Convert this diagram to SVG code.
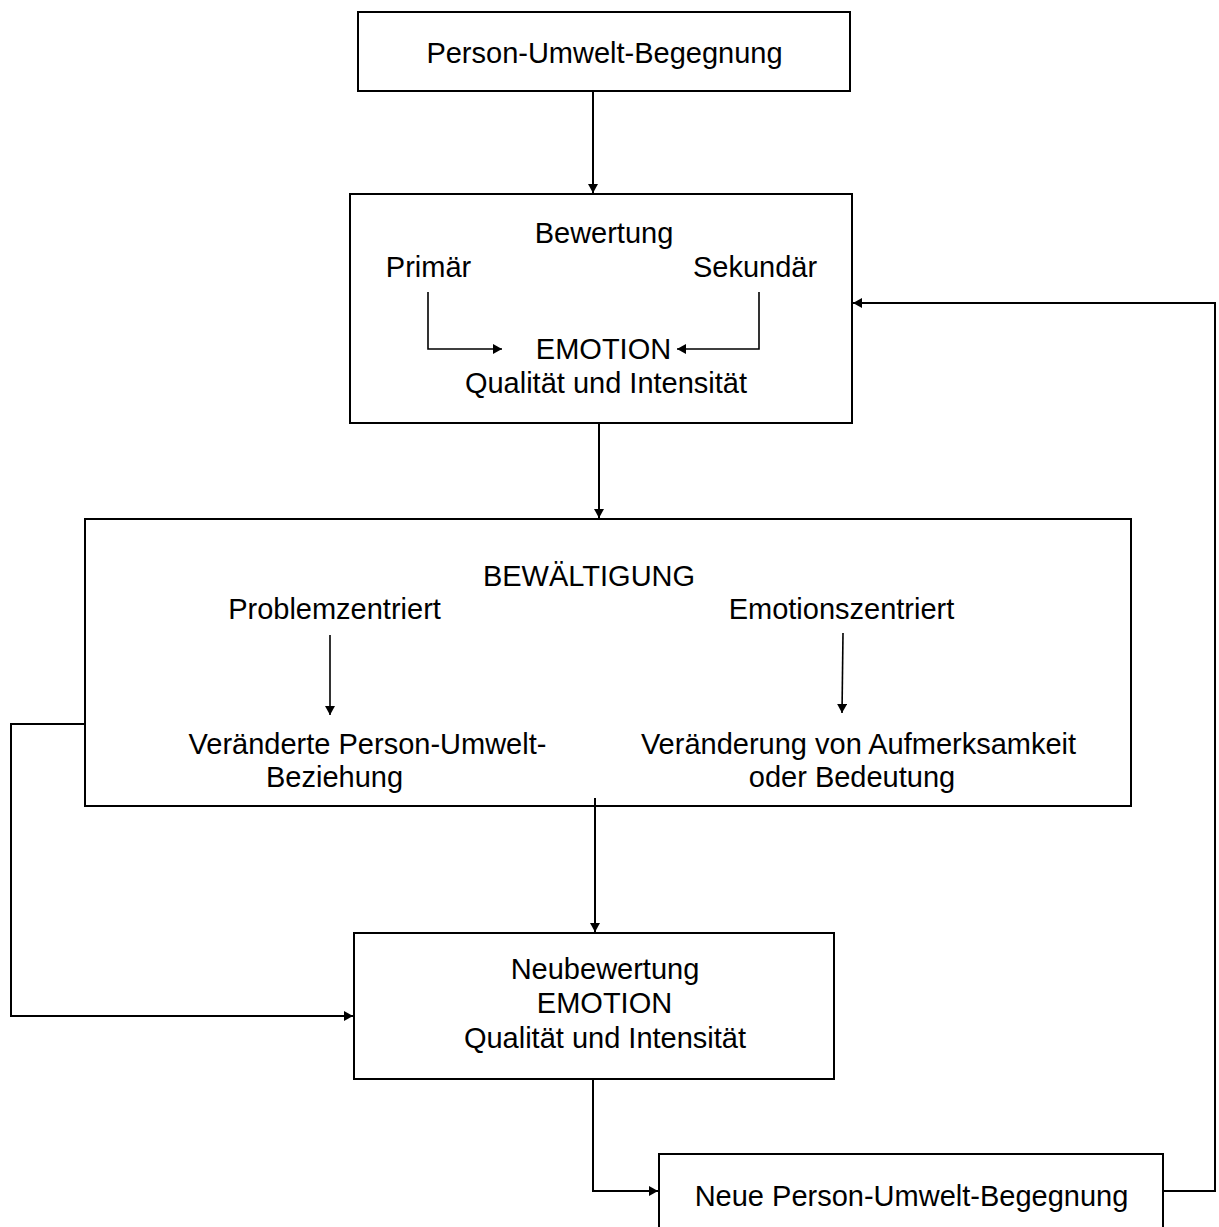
<svg xmlns="http://www.w3.org/2000/svg" width="1219" height="1227" viewBox="0 0 1219 1227">
  <style>
    .box { fill: #ffffff; stroke: #000000; stroke-width: 2; }
    .lbl { font-family: "Liberation Sans", Arial, sans-serif; font-size: 29px; fill: #000000; text-anchor: middle; }
    .con { fill: none; stroke: #000000; stroke-width: 2; }
    .inner { fill: none; stroke: #000000; stroke-width: 1.6; }
  </style>
  <defs>
    <marker id="arrow" viewBox="0 0 9 10" refX="9" refY="5" markerWidth="9" markerHeight="10" markerUnits="userSpaceOnUse" orient="auto">
      <path d="M0,0 L9,5 L0,10 Z" fill="#000000"/>
    </marker>
  </defs>
  <rect width="1219" height="1227" fill="#ffffff"/>

  <!-- encounter -->
  <g id="node-begegnung">
    <rect class="box" x="358" y="12" width="492" height="79"/>
    <text class="lbl" x="604.5" y="63">Person-Umwelt-Begegnung</text>
  </g>

  <!-- appraisal -->
  <g id="node-bewertung">
    <rect class="box" x="350" y="194" width="502" height="229"/>
    <text class="lbl" x="604" y="243">Bewertung</text>
    <text class="lbl" x="428.5" y="277">Primär</text>
    <text class="lbl" x="755" y="277">Sekundär</text>
    <text class="lbl" x="603.5" y="359">EMOTION</text>
    <text class="lbl" x="606" y="393">Qualität und Intensität</text>
    <polyline class="inner" points="428,292 428,349 502,349" marker-end="url(#arrow)"/>
    <polyline class="inner" points="759,292 759,349 677,349" marker-end="url(#arrow)"/>
  </g>

  <!-- coping -->
  <g id="node-bewaeltigung">
    <rect class="box" x="85" y="519" width="1046" height="287"/>
    <text class="lbl" x="589" y="586">BEWÄLTIGUNG</text>
    <text class="lbl" x="334.5" y="619">Problemzentriert</text>
    <text class="lbl" x="841.5" y="619">Emotionszentriert</text>
    <text class="lbl" x="367.5" y="754">Veränderte Person-Umwelt-</text>
    <text class="lbl" x="334.5" y="787">Beziehung</text>
    <text class="lbl" x="858.5" y="754">Veränderung von Aufmerksamkeit</text>
    <text class="lbl" x="852" y="787">oder Bedeutung</text>
    <line class="inner" x1="330" y1="635" x2="330" y2="715" marker-end="url(#arrow)"/>
    <line class="inner" x1="843" y1="633" x2="842" y2="713" marker-end="url(#arrow)"/>
  </g>

  <!-- reappraisal -->
  <g id="node-neubewertung">
    <rect class="box" x="354" y="933" width="480" height="146"/>
    <text class="lbl" x="605" y="979">Neubewertung</text>
    <text class="lbl" x="604.5" y="1013">EMOTION</text>
    <text class="lbl" x="605" y="1048">Qualität und Intensität</text>
  </g>

  <!-- new encounter -->
  <g id="node-neue-begegnung">
    <rect class="box" x="659" y="1154" width="504" height="90"/>
    <text class="lbl" x="911.5" y="1206">Neue Person-Umwelt-Begegnung</text>
  </g>

  <!-- connectors -->
  <g id="connectors">
    <line class="con" x1="593" y1="91" x2="593" y2="193" marker-end="url(#arrow)"/>
    <line class="con" x1="599" y1="423" x2="599" y2="518" marker-end="url(#arrow)"/>
    <line class="con" x1="595" y1="798" x2="595" y2="932" marker-end="url(#arrow)"/>
    <polyline class="con" points="85,724 11,724 11,1016 353,1016" marker-end="url(#arrow)"/>
    <polyline class="con" points="593,1079 593,1191 658,1191" marker-end="url(#arrow)"/>
    <polyline class="con" points="1163,1191 1215,1191 1215,303 853,303" marker-end="url(#arrow)"/>
  </g>
</svg>
